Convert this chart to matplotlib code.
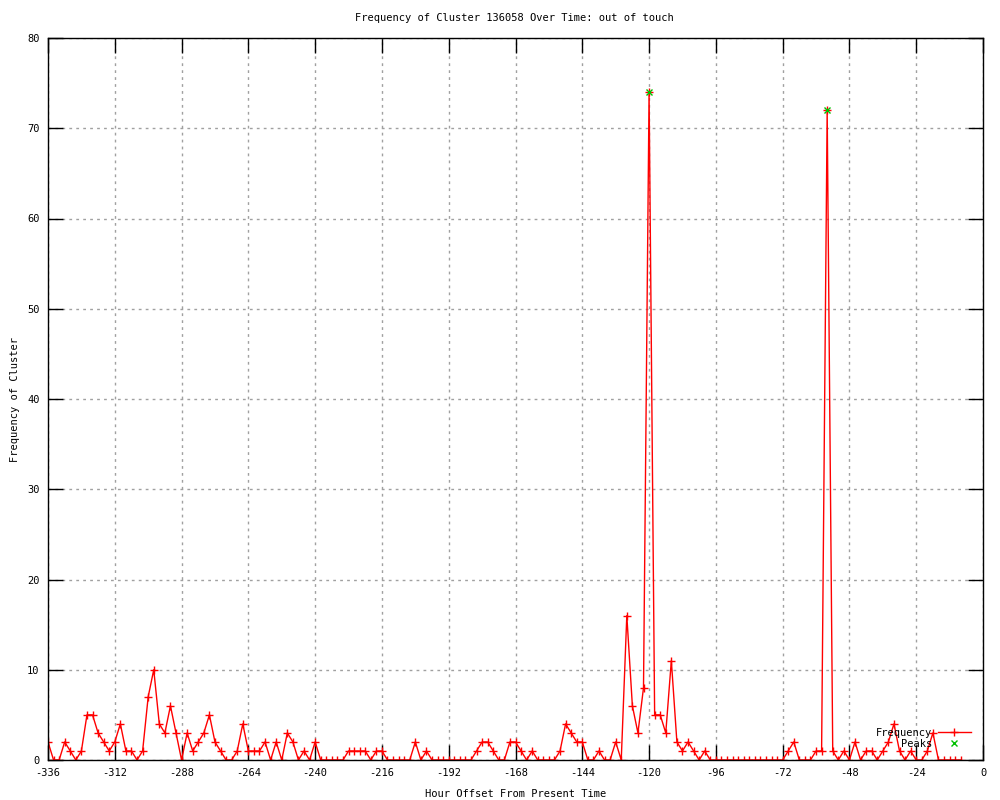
import matplotlib
matplotlib.use('Agg')
import matplotlib.pyplot as plt
import numpy as np

# hour offsets, every 2 hours from -336 to -8
hours = np.arange(-336, -6, 2)

freq = [
    2, 0, 0, 2, 1, 0, 1, 5, 5, 3, 2, 1,          # -336 .. -314
    2, 4, 1, 1, 0, 1, 7, 10, 4, 3, 6, 3,         # -312 .. -290
    0, 3, 1, 2, 3, 5, 2, 1, 0, 0, 1, 4,          # -288 .. -266
    1, 1, 1, 2, 0, 2, 0, 3, 2, 0, 1, 0,          # -264 .. -242
    2, 0, 0, 0, 0, 0, 1, 1, 1, 1, 0, 1,          # -240 .. -218
    1, 0, 0, 0, 0, 0, 2, 0, 1, 0, 0, 0,          # -216 .. -194
    0, 0, 0, 0, 0, 1, 2, 2, 1, 0, 0, 2,          # -192 .. -170
    2, 1, 0, 1, 0, 0, 0, 0, 1, 4, 3, 2,          # -168 .. -146
    2, 0, 0, 1, 0, 0, 2, 0, 16, 6, 3, 8,         # -144 .. -122
    74, 5, 5, 3, 11, 2, 1, 2, 1, 0, 1, 0,        # -120 .. -98
    0, 0, 0, 0, 0, 0, 0, 0, 0, 0, 0, 0,          # -96 .. -74
    0, 1, 2, 0, 0, 0, 1, 1, 72, 1, 0, 1,         # -72 .. -50
    0, 2, 0, 1, 1, 0, 1, 2, 4, 1, 0, 1,          # -48 .. -26
    0, 0, 1, 3, 0, 0, 0, 0, 0,                   # -24 .. -8
]

peak_hours = [-120, -56]
peak_vals = [74, 72]

title = 'Frequency of Cluster 136058 Over Time: out of touch'
xticks = list(range(-336, 1, 24))
yticks = list(range(0, 81, 10))

plt.rcParams['font.family'] = ['DejaVu Sans Mono']
plt.rcParams['font.size'] = 7.5

fig = plt.figure(figsize=(10, 8), dpi=100)
ax = fig.add_axes([0.048, 0.05, 0.935, 0.9025])

ax.plot(hours, freq, color='red', linewidth=1, marker='+', markersize=5.5,
        markeredgewidth=1, label='Frequency', zorder=3)
ax.plot(peak_hours, peak_vals, linestyle='none', marker='x', color='#00c000',
        markersize=5, markeredgewidth=1, label='Peaks', zorder=4)

ax.set_xlim(-336, 0)
ax.set_ylim(0, 80)
ax.set_xticks(xticks)
ax.set_yticks(yticks)
ax.set_xticklabels([f'{t:d}' for t in xticks])
ax.tick_params(direction='in', length=11, width=1, top=True, right=True,
               labeltop=False, labelright=False, pad=6)
ax.grid(True, color='#a0a0a0', linestyle=(0, (2, 3)), linewidth=1, zorder=0)
ax.set_axisbelow(True)
for sp in ax.spines.values():
    sp.set_linewidth(1)
    sp.set_zorder(5)

ax.set_xlabel('Hour Offset From Present Time', labelpad=8)
ax.set_ylabel('Frequency of Cluster', labelpad=5)
fig.text(0.514, 0.977, title, ha='center', va='center')

ax.legend(loc='lower right', bbox_to_anchor=(0.995, 0.005), frameon=False,
          markerfirst=False, handlelength=3.2, handletextpad=0.5,
          labelspacing=0.1, borderpad=0.2)

fig.savefig('out.png', dpi=100)
